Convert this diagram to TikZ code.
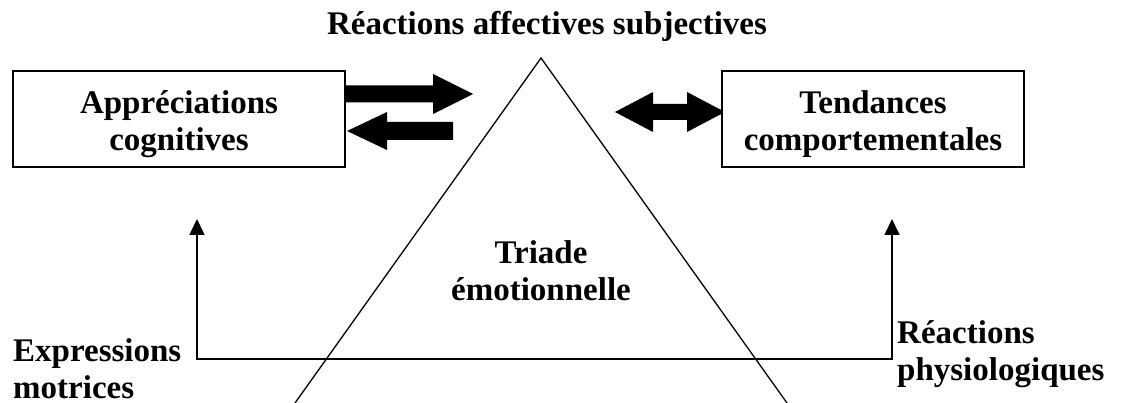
\documentclass[tikz,border=0pt]{standalone}
\usepackage{fontspec}
\setmainfont{Liberation Serif}
\usetikzlibrary{arrows.meta,calc}
\begin{document}
\begin{tikzpicture}[x=1pt,y=-1pt,
  lbl/.style={font=\fontsize{33}{37}\selectfont\bfseries, inner sep=0pt},
  boxst/.style={draw, line width=1.5pt, minimum height=96pt, inner sep=0pt, fill=white},
  thinline/.style={line width=1.3pt},
  conn/.style={line width=1.6pt, {Triangle[width=15pt,length=16pt]}-{Triangle[width=15pt,length=16pt]}},
  block/.style={fill=black}]
\useasboundingbox (0,0) rectangle (1134,403);
% triangle
\draw[thinline] (295,403) -- (541,58) -- (787,403);
% block arrows
\fill[block] (345,85.5) -- (433,85.5) -- (433,74) -- (473,94) -- (433,114) -- (433,102.5) -- (345,102.5) -- cycle;
\fill[block] (453,122) -- (387,122) -- (387,112) -- (347,131) -- (387,150) -- (387,140) -- (453,140) -- cycle;
\fill[block] (615,112) -- (653,92) -- (653,104) -- (687,104) -- (687,92) -- (725,112) -- (687,132) -- (687,120) -- (653,120) -- (653,132) -- cycle;
% boxes
\node[boxst, minimum width=332pt] (appr) at (179,119) {};
\node[boxst, minimum width=302pt] (tend) at (873,119) {};
% texts
\node[lbl, anchor=base] (title) at (547,35) {Réactions affectives subjectives};
\node[lbl, align=center] (apprt) at (179,124) {Appréciations\\cognitives};
\node[lbl, align=center] (tendt) at (873,124) {Tendances\\comportementales};
\node[lbl, align=center] (triade) at (541,271) {Triade\\émotionnelle};
\node[lbl, align=left, anchor=west] (expr) at (13,368.5) {Expressions\\motrices};
\node[lbl, align=left, anchor=west] (phys) at (897,354) {Réactions\\physiologiques};
% connector
\coordinate (lt) at (197,219);
\coordinate (rt) at (892,219);
\draw[conn] (lt) -- (197,359) -- (892,359) -- (rt);
\end{tikzpicture}
\end{document}
